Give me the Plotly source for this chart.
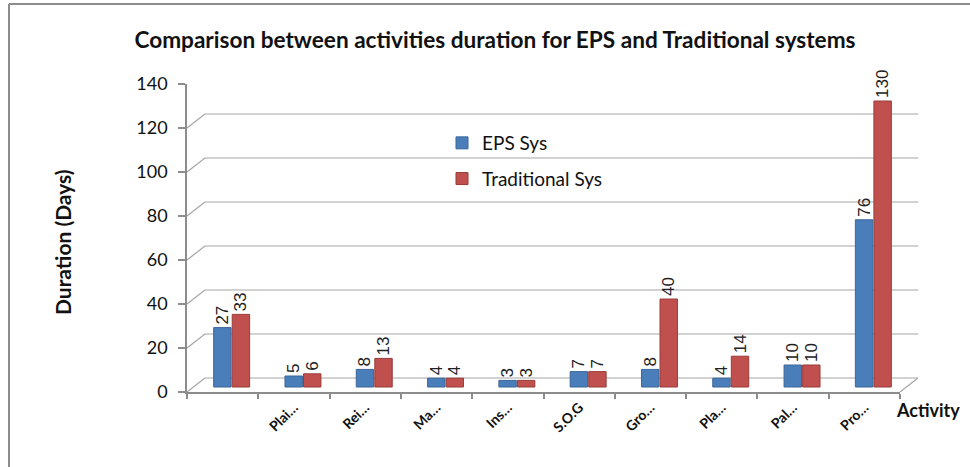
import plotly.graph_objects as go

categories = ["", "Plai…", "Rei…", "Ma…", "Ins…", "S.O.G", "Gro…", "Pla…", "Pal…", "Pro…"]
eps_sys = [27, 5, 8, 4, 3, 7, 8, 4, 10, 76]
traditional_sys = [33, 6, 13, 4, 3, 7, 40, 14, 10, 130]
y_ticks = [0, 20, 40, 60, 80, 100, 120, 140]

W, H = 970, 467
L, R, T, B = 187, 70, 84, 75
PW = W - L - R
PH = H - T - B
DX, DY = 18, 14  # 3D depth offset of the back wall, pixels
BX, BY = 9, 5    # depth offset of the bar row, pixels

n = len(categories)
x_idx = list(range(n))
x_keys = ["c%d" % i for i in x_idx]
ux = BX * n / PW
uy = BY * 140 / PH

fig = go.Figure()
fig.add_trace(go.Bar(
    x=x_idx, y=eps_sys, name="EPS Sys", legendgroup="a", xaxis="x2", yaxis="y2",
    marker=dict(color="#4A7EBB", line=dict(color="#3A6699", width=1)),
    text=[str(v) for v in eps_sys], textposition="outside", textangle=-90,
    textfont=dict(family="Liberation Sans", size=17, color="#222"),
    cliponaxis=False, constraintext="none",
))
fig.add_trace(go.Bar(
    x=x_idx, y=traditional_sys, name="Traditional Sys", legendgroup="b", xaxis="x2", yaxis="y2",
    marker=dict(color="#C0504D", line=dict(color="#9A3B39", width=1)),
    text=[str(v) for v in traditional_sys], textposition="outside", textangle=-90,
    textfont=dict(family="Liberation Sans", size=17, color="#222"),
    cliponaxis=False, constraintext="none",
))
# invisible trace to drive the primary (category) axes
fig.add_trace(go.Scatter(x=x_keys, y=[0] * n, mode="markers", marker=dict(opacity=0),
                         showlegend=False, hoverinfo="skip"))

shapes = []
grid_col = "#A6A6A6"
for v in y_ticks:
    shapes.append(dict(type="line", xref="paper", yref="y",
                       xsizemode="pixel", xanchor=0, x0=0, x1=DX,
                       ysizemode="pixel", yanchor=v, y0=0, y1=DY,
                       line=dict(color=grid_col, width=1.2), layer="below"))
    shapes.append(dict(type="line", xref="paper", yref="y",
                       xsizemode="pixel", xanchor=0, x0=DX, x1=PW + DX,
                       ysizemode="pixel", yanchor=v, y0=DY, y1=DY,
                       line=dict(color=grid_col, width=1.2), layer="below"))
shapes.append(dict(type="line", xref="paper", yref="y",
                   xsizemode="pixel", xanchor=1, x0=0, x1=DX,
                   ysizemode="pixel", yanchor=0, y0=0, y1=DY,
                   line=dict(color=grid_col, width=1.2), layer="below"))
fx = (9 - L) / PW
fy = 1 + (T - 4) / PH
shapes.append(dict(type="line", xref="paper", yref="paper", x0=fx, x1=fx, y0=fy, y1=-(B) / PH,
                   line=dict(color="#8C8C8C", width=2)))
shapes.append(dict(type="line", xref="paper", yref="paper", x0=fx, x1=(W - L + 5) / PW, y0=fy, y1=fy,
                   line=dict(color="#8C8C8C", width=2)))

fig.update_layout(
    width=W, height=H,
    margin=dict(l=L, r=R, t=T, b=B, autoexpand=False),
    paper_bgcolor="white", plot_bgcolor="rgba(0,0,0,0)",
    barmode="group", bargap=0.48, bargroupgap=0.06,
    shapes=shapes,
    title=dict(text="<b>Comparison between activities duration for EPS and Traditional systems</b>",
               x=495 / W, xanchor="center", y=1 - 40 / H, yanchor="middle",
               font=dict(family="Lato", size=22.6, color="#111")),
    legend=dict(x=(442 - L) / PW, y=1 - (124 - T) / PH, xanchor="left", yanchor="top",
                bgcolor="rgba(0,0,0,0)", tracegroupgap=8,
                font=dict(family="Lato", size=19, color="#111")),
    font=dict(family="Lato", color="#111"),
    showlegend=True,
    xaxis2=dict(overlaying="x", visible=False, range=[-0.5 - ux, n - 0.5 - ux]),
    yaxis2=dict(overlaying="y", visible=False, range=[-uy, 140 - uy]),
)
fig.layout.xaxis.update(
    type="category", tickmode="array", tickvals=x_keys,
    ticktext=["<b>%s</b>" % c for c in categories],
    range=[-0.5, n - 0.5], automargin=False,
    tickangle=-45, tickfont=dict(family="Lato", size=14, color="#111"),
    showline=True, linecolor="#8C8C8C", linewidth=1.5,
    ticks="outside", ticklen=5, tickcolor="#8C8C8C", tickwidth=2,
    tickson="boundaries", showgrid=False, zeroline=False,
)
fig.layout.yaxis.update(
    range=[0, 140], tickvals=y_ticks, automargin=False,
    tickfont=dict(family="Lato", size=18, color="#111"),
    showline=True, linecolor="#8C8C8C", linewidth=1.5,
    ticks="outside", ticklen=7, tickcolor="#8C8C8C", tickwidth=1.5,
    ticklabelstandoff=7,
    showgrid=False, zeroline=False,
)
fig.add_annotation(text="<b>Duration (Days)</b>", xref="paper", yref="paper",
                   x=(62 - L) / PW, y=(392 - 242) / PH, xanchor="center", yanchor="middle",
                   textangle=-90, showarrow=False,
                   font=dict(family="Lato", size=21, color="#111"))
fig.add_annotation(text="<b>Activity</b>", xref="paper", yref="paper",
                   x=(928 - L) / PW, y=(392 - 410) / PH, xanchor="center", yanchor="middle",
                   showarrow=False,
                   font=dict(family="Lato", size=18, color="#111"))

fig.write_html("out.html", config={"displayModeBar": False},
               post_script="document.body.style.margin='0';")
